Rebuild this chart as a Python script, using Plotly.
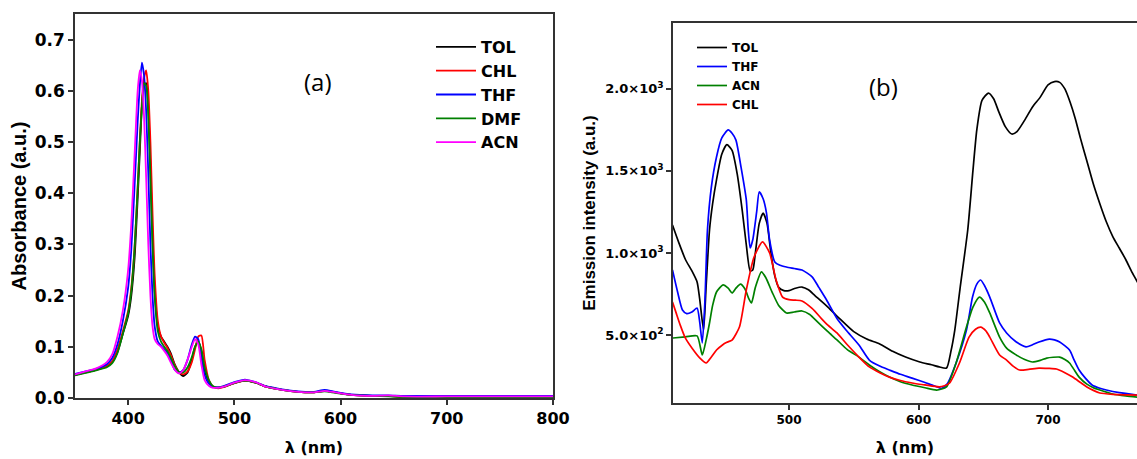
import plotly.graph_objects as go

# ---------------- (a) absorption spectra ----------------
wl_abs = [350, 360, 370, 380, 385, 390, 395, 400, 403, 406, 409, 411, 413, 415, 417, 419,
          421, 423, 425, 428, 431, 434, 437, 440, 444, 448, 452, 456, 460, 463, 466, 469,
          472, 476, 480, 485, 490, 500, 510, 520, 530, 545, 560, 575, 585, 595, 610, 630,
          645, 660, 700, 750, 800]

abs_tol = [.045, .05, .055, .062, .07, .09, .125, .16, .2, .27, .39, .48, .57, .61, .615, .57,
           .45, .31, .21, .14, .12, .11, .1, .088, .065, .05, .043, .05, .075, .1, .11, .092,
           .055, .032, .022, .02, .022, .029, .034, .03, .022, .016, .012, .011, .014, .011, .006, .004,
           .004, .002, .002, .002, .002]
abs_chl = [.045, .05, .055, .063, .072, .095, .13, .17, .215, .29, .41, .5, .58, .625, .64, .6,
           .5, .36, .24, .15, .12, .108, .098, .085, .064, .05, .046, .052, .07, .095, .12, .122,
           .075, .035, .022, .019, .021, .029, .034, .03, .022, .016, .012, .011, .014, .011, .006, .004,
           .004, .002, .002, .002, .002]
abs_thf = [.047, .052, .057, .066, .078, .105, .15, .215, .29, .41, .54, .61, .655, .63, .56, .44,
           .3, .2, .14, .11, .102, .095, .088, .075, .055, .05, .055, .075, .105, .12, .115, .08,
           .045, .028, .022, .021, .023, .031, .036, .031, .023, .017, .013, .012, .016, .012, .007, .005,
           .005, .004, .004, .004, .004]
abs_dmf = [.044, .049, .054, .06, .068, .088, .125, .165, .21, .29, .41, .5, .57, .615, .61, .55,
           .43, .3, .2, .13, .11, .1, .092, .08, .062, .05, .05, .06, .08, .1, .11, .095,
           .06, .035, .023, .02, .022, .029, .034, .03, .022, .016, .012, .011, .013, .01, .006, .004,
           .003, .002, .002, .002, .002]
abs_acn = [.046, .052, .058, .07, .085, .12, .17, .25, .34, .47, .6, .64, .62, .55, .43, .3,
           .2, .14, .115, .105, .1, .092, .083, .07, .055, .048, .055, .075, .1, .115, .105, .065,
           .035, .024, .02, .02, .022, .03, .035, .031, .022, .016, .012, .011, .014, .011, .006, .004,
           .005, .003, .003, .003, .003]

abs_names = ["TOL", "CHL", "THF", "DMF", "ACN"]
abs_colors = ["#000000", "#ff0000", "#0000ff", "#008000", "#ff00ff"]
abs_series = [abs_tol, abs_chl, abs_thf, abs_dmf, abs_acn]

abs_yticks = [0.0, 0.1, 0.2, 0.3, 0.4, 0.5, 0.6, 0.7]
abs_xticks = [400, 500, 600, 700, 800]

# ---------------- (b) emission spectra ----------------
wl_tol = [410, 415, 420, 425, 429, 431, 434, 436, 438.6, 441, 444, 448, 452, 456, 460, 464, 467,
          470, 472, 474, 477, 480, 483, 486, 489, 492, 496, 500, 505, 510, 515, 520, 530, 539,
          550, 560, 570, 580, 590, 601, 610, 616, 621.6, 625, 628, 632, 638, 642, 645, 649,
          654, 658, 662, 667, 672, 676, 682, 688, 694, 700, 705, 709, 713, 717, 721, 725,
          730, 735, 740, 745, 750, 755, 760, 765, 770]
em_tol = [1170, 1060, 960, 890, 823, 720, 530, 800, 1140, 1300, 1445, 1600, 1660, 1625, 1480, 1250, 1050,
          890, 896, 1000, 1180, 1243, 1180, 1000, 860, 790, 770, 770, 785, 792, 775, 740, 670, 600,
          520, 475, 445, 400, 365, 335, 318, 305, 298, 400, 530, 780, 1140, 1500, 1750, 1930,
          1975, 1940, 1860, 1770, 1725, 1740, 1810, 1890, 1950, 2025, 2045, 2040, 2000, 1920, 1820, 1700,
          1560, 1420, 1300, 1190, 1100, 1030, 960, 880, 810]

wl_thf = [410, 414, 417.7, 421, 425, 429, 431, 433, 435, 437, 440, 444, 448, 453, 456, 459, 463,
          467, 468.5, 470, 472, 475, 477, 480, 482.6, 485, 489, 493, 498, 504, 510, 518, 523,
          529, 537, 544, 554, 562, 570, 577.5, 586, 595, 605, 612, 618, 622, 629, 637, 641.7,
          645, 648, 651, 655, 662.6, 668, 675, 683, 688, 693, 701, 705, 709, 716.6, 720, 724,
          729, 734, 740, 745, 755, 770]
em_thf = [896, 760, 652, 630, 640, 664, 580, 451, 700, 1140, 1400, 1585, 1700, 1750, 1730, 1688, 1520,
          1323, 1140, 1030, 1080, 1250, 1372, 1330, 1243, 1079, 945, 925, 914, 905, 896, 853, 790,
          713, 600, 530, 439, 347, 310, 286, 260, 237, 210, 190, 175, 200, 329, 530, 731,
          810, 835, 800, 731, 573, 512, 460, 427, 440, 457, 475, 470, 457, 408, 350, 286,
          235, 195, 175, 164, 148, 132]

wl_acn = [410, 420, 429, 433, 436, 438.6, 441, 444, 449, 453, 456, 459, 462.5, 466, 469, 471, 474,
          478.7, 482, 487, 492, 498, 504, 510, 516, 522, 530, 537, 545, 554, 562, 570, 577.5,
          586, 595, 605, 614, 621.6, 629, 637, 642, 647, 651, 655, 662.6, 668, 675, 682, 688,
          694, 699, 704, 709, 713, 716.6, 720, 724, 730, 735, 740, 750, 760, 770]
em_acn = [481, 488, 494, 378, 470, 573, 680, 762, 805, 785, 756, 785, 810, 780, 720, 695, 790,
          884, 850, 760, 680, 634, 640, 646, 625, 580, 520, 470, 410, 365, 317, 275, 243,
          215, 195, 178, 164, 183, 329, 548, 670, 731, 700, 634, 487, 420, 380, 350, 335,
          345, 359, 364, 365, 350, 329, 290, 243, 200, 178, 164, 140, 128, 120]

wl_chl = [410, 413, 416, 420, 425, 431, 436, 440, 444, 448.6, 452, 456, 461.7, 467, 473, 479.5, 485,
          490, 495, 500, 505, 510, 518, 525, 530, 537, 545, 554, 562, 570, 577.5, 586, 595,
          605, 616, 620, 624, 631.6, 639, 644, 648, 652, 655, 662.6, 668, 673, 678, 685, 693,
          700, 706.5, 713, 719, 725, 730, 735, 740, 750, 760, 770]
em_chl = [701, 630, 560, 480, 420, 360, 329, 365, 408, 439, 455, 469, 548, 774, 975, 1067, 1000,
          835, 731, 715, 712, 707, 660, 600, 560, 512, 440, 365, 305, 270, 243, 222, 207,
          195, 183, 190, 207, 329, 487, 535, 548, 525, 487, 378, 347, 310, 286, 290, 298,
          296, 292, 270, 243, 210, 183, 162, 146, 138, 135, 133]

em_names = ["TOL", "THF", "ACN", "CHL"]
em_colors = ["#000000", "#0000ff", "#008000", "#ff0000"]
em_x = [wl_tol, wl_thf, wl_acn, wl_chl]
em_y = [em_tol, em_thf, em_acn, em_chl]

em_yticks = [500, 1000, 1500, 2000]
em_yticktext = ["5.0×10<sup>2</sup>", "1.0×10<sup>3</sup>", "1.5×10<sup>3</sup>", "2.0×10<sup>3</sup>"]
em_xticks = [500, 600, 700]

FONT = "DejaVu Sans"
TITLE_FONT = "Liberation Sans, Arial"
AXIS_COLOR = "#333333"

# plot-area geometry (pixels)
W, H = 1137, 459
ML, MT, MB = 75, 14, 56
PW, PH = W - ML, H - MT - MB


def px(x):
    return (x - ML) / PW


def py(y):
    return 1 - (y - MT) / PH


fig = go.Figure()

for name, col, ys in zip(abs_names, abs_colors, abs_series):
    fig.add_trace(go.Scatter(
        x=wl_abs, y=ys, name=name, mode="lines",
        line=dict(color=col, width=1.8, shape="spline", smoothing=0.6),
        xaxis="x", yaxis="y", legend="legend",
    ))

for name, col, xs, ys in zip(em_names, em_colors, em_x, em_y):
    fig.add_trace(go.Scatter(
        x=xs, y=ys, name=name, mode="lines",
        line=dict(color=col, width=1.7, shape="spline", smoothing=0.6),
        xaxis="x2", yaxis="y2", legend="legend2",
    ))

axis_common = dict(
    showline=True, linecolor=AXIS_COLOR, linewidth=1.6,
    ticks="outside", ticklen=5, tickwidth=1.6, tickcolor=AXIS_COLOR,
    showgrid=False, zeroline=False, automargin=False,
)

fig.update_layout(
    width=W, height=H,
    margin=dict(l=ML, r=0, t=MT, b=MB),
    paper_bgcolor="white", plot_bgcolor="white",
    font=dict(family=FONT, color="#000000"),
    xaxis=dict(
        domain=[0, px(553)], range=[350, 800], anchor="y",
        tickvals=abs_xticks, mirror=True,
        tickfont=dict(size=16, family=FONT, weight="bold"),
        title=dict(text="λ (nm)", font=dict(size=16, family=FONT, weight="bold"), standoff=15),
        **axis_common,
    ),
    yaxis=dict(
        domain=[py(398), 1], range=[0, 0.75], anchor="x",
        tickvals=abs_yticks, tickformat=".1f", mirror=True,
        tickfont=dict(size=17, family=FONT, weight="bold"),
        title=dict(text="Absorbance (a.u.)", font=dict(size=20, family=TITLE_FONT, weight="bold"), standoff=3),
        **axis_common,
    ),
    xaxis2=dict(
        domain=[px(673), 1], range=[410.4, 768.7], anchor="y2",
        tickvals=em_xticks, mirror=True,
        tickfont=dict(size=12, family=FONT, weight="bold"),
        title=dict(text="λ (nm)", font=dict(size=16, family=FONT, weight="bold"), standoff=16),
        **axis_common,
    ),
    yaxis2=dict(
        domain=[0, py(23)], range=[85, 2402], anchor="x2",
        tickvals=em_yticks, ticktext=em_yticktext, mirror=False,
        tickfont=dict(size=13, family=FONT, weight="bold"),
        title=dict(text="Emission intensity (a.u.)", font=dict(size=17, family=TITLE_FONT, weight="bold"), standoff=5),
        **axis_common,
    ),
    legend=dict(
        x=px(431), y=py(30), xref="paper", yref="paper",
        xanchor="left", yanchor="top", bgcolor="rgba(0,0,0,0)",
        font=dict(size=16, family=FONT, weight="bold"), itemwidth=40,
    ),
    legend2=dict(
        x=px(692), y=py(33), xref="paper", yref="paper",
        xanchor="left", yanchor="top", bgcolor="rgba(0,0,0,0)",
        font=dict(size=12, family=FONT, weight="bold"), itemwidth=30,
    ),
    showlegend=True,
    annotations=[
        dict(text="(a)", x=px(318), y=py(82), xref="paper", yref="paper",
             xanchor="center", yanchor="middle",
             showarrow=False, font=dict(size=24, family="Open Sans", color="#000000")),
        dict(text="(b)", x=px(883), y=py(87), xref="paper", yref="paper",
             xanchor="center", yanchor="middle",
             showarrow=False, font=dict(size=24, family="Open Sans", color="#000000")),
    ],
)

fig.write_html("out.html")
